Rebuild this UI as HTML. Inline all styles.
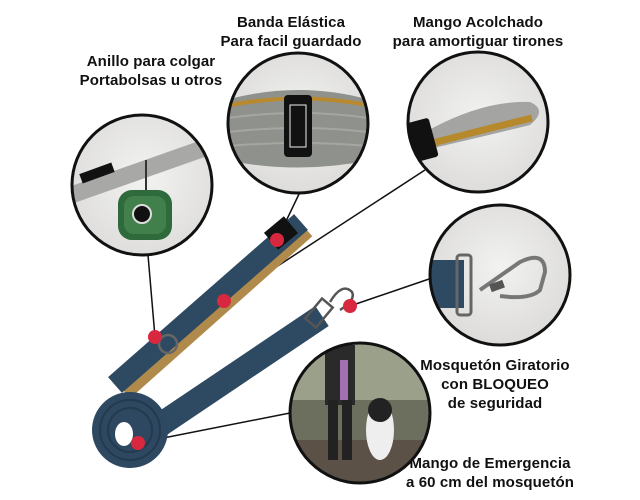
<!DOCTYPE html>
<html><head><meta charset="utf-8"><style>
html,body{margin:0;padding:0;background:#fff;width:640px;height:500px;overflow:hidden}
svg{display:block}
text{font-family:"Liberation Sans",sans-serif;font-weight:bold;font-size:15px;fill:#111;text-anchor:middle;letter-spacing:0.1px}
</style></head><body>
<svg width="640" height="500" viewBox="0 0 640 500" xmlns="http://www.w3.org/2000/svg">
<defs>
<radialGradient id="bg" cx="50%" cy="45%" r="60%"><stop offset="0" stop-color="#f2f2f1"/><stop offset="1" stop-color="#d9d8d6"/></radialGradient>
<clipPath id="c1"><circle cx="142" cy="185" r="70"/></clipPath>
<clipPath id="c2"><circle cx="298" cy="123" r="70"/></clipPath>
<clipPath id="c3"><circle cx="478" cy="122" r="70"/></clipPath>
<clipPath id="c4"><circle cx="500" cy="275" r="70"/></clipPath>
<clipPath id="c5"><circle cx="360" cy="413" r="70"/></clipPath>
</defs>
<text x="291" y="27">Banda Elástica</text>
<text x="291" y="46">Para facil guardado</text>
<text x="478" y="27">Mango Acolchado</text>
<text x="478" y="46">para amortiguar tirones</text>
<text x="151" y="66">Anillo para colgar</text>
<text x="151" y="85">Portabolsas u otros</text>
<text x="495" y="370">Mosquetón Giratorio</text>
<text x="495" y="389">con BLOQUEO</text>
<text x="495" y="408">de seguridad</text>
<text x="490" y="468">Mango de Emergencia</text>
<text x="490" y="487">a 60 cm del mosquetón</text>

<g stroke="#111" stroke-width="1.5" fill="none">
<line x1="148" y1="255" x2="155" y2="337"/>
<line x1="300" y1="192" x2="277" y2="240"/>
<line x1="425" y1="170" x2="224" y2="301"/>
<line x1="432" y1="278" x2="350" y2="306"/>
<line x1="290" y1="413" x2="138" y2="443"/>
</g>

<g>
<line x1="305" y1="228" x2="123" y2="390" stroke="#b08a4a" stroke-width="22"/>
<line x1="301" y1="222" x2="115" y2="385" stroke="#2e4a62" stroke-width="21"/>
<line x1="322" y1="316" x2="160" y2="425" stroke="#2e4a62" stroke-width="24"/>
<circle cx="130" cy="430" r="38" fill="#2d4860"/>
<circle cx="130" cy="430" r="30" fill="none" stroke="#233a4f" stroke-width="2"/>
<circle cx="130" cy="430" r="22" fill="none" stroke="#233a4f" stroke-width="2"/>
<ellipse cx="124" cy="434" rx="9" ry="12" fill="#fff"/>
<rect x="268" y="222" width="26" height="22" fill="#111" transform="rotate(-40 281 233)"/>
<circle cx="168" cy="344" r="9" fill="none" stroke="#666" stroke-width="2.5"/>
<rect x="312" y="300" width="14" height="26" fill="none" stroke="#555" stroke-width="2.5" transform="rotate(40 319 313)"/>
<path d="M330 302 Q342 282 352 292 Q356 300 340 310" fill="none" stroke="#555" stroke-width="2.5"/>
</g>

<g clip-path="url(#c1)">
<rect x="60" y="100" width="170" height="170" fill="url(#bg)"/>
<path d="M60 190 L230 130 L230 148 L60 208 Z" fill="#a8a9a7"/>
<rect x="80" y="168" width="34" height="10" fill="#111" transform="rotate(-20 97 173)"/>
<line x1="146" y1="160" x2="146" y2="190" stroke="#333" stroke-width="2"/>
<rect x="118" y="190" width="54" height="50" rx="14" fill="#2f6a3c"/>
<rect x="124" y="196" width="42" height="38" rx="10" fill="#4f8f55" opacity="0.6"/>
<circle cx="142" cy="214" r="9" fill="#111" stroke="#ddd" stroke-width="2"/>
</g>
<circle cx="142" cy="185" r="70" fill="none" stroke="#111" stroke-width="3"/>

<g clip-path="url(#c2)">
<rect x="220" y="50" width="160" height="150" fill="url(#bg)"/>
<path d="M225 100 Q300 80 370 100 L370 160 Q300 175 225 160 Z" fill="#8f918d"/>
<path d="M230 105 Q300 92 368 105" stroke="#b8892f" stroke-width="4" fill="none"/>
<g stroke="#a5a6a2" stroke-width="2" fill="none">
<path d="M228 118 Q300 108 368 118"/><path d="M228 132 Q300 124 368 132"/><path d="M228 146 Q300 140 368 146"/>
</g>
<rect x="284" y="95" width="28" height="62" rx="4" fill="#111"/>
<rect x="290" y="105" width="16" height="42" fill="none" stroke="#eee" stroke-width="1"/>
</g>
<circle cx="298" cy="123" r="70" fill="none" stroke="#111" stroke-width="3"/>

<g clip-path="url(#c3)">
<rect x="400" y="50" width="160" height="150" fill="url(#bg)"/>
<path d="M420 135 Q480 100 530 102 Q548 110 530 125 Q490 135 425 150 Z" fill="#a4a5a3"/>
<path d="M425 145 Q490 128 532 118" stroke="#b68a2c" stroke-width="7" fill="none"/>
<rect x="410" y="120" width="24" height="40" rx="3" fill="#111" transform="rotate(-15 422 140)"/>
</g>
<circle cx="478" cy="122" r="70" fill="none" stroke="#111" stroke-width="3"/>

<g clip-path="url(#c4)">
<rect x="425" y="200" width="150" height="150" fill="url(#bg)"/>
<rect x="430" y="260" width="34" height="48" fill="#2e4a62"/>
<rect x="457" y="255" width="14" height="60" rx="3" fill="none" stroke="#666" stroke-width="3"/>
<path d="M480 290 L520 262 Q545 250 545 272 L540 290 Q530 300 500 296" fill="none" stroke="#777" stroke-width="4"/>
<rect x="490" y="282" width="14" height="8" fill="#555" transform="rotate(-20 497 286)"/>
</g>
<circle cx="500" cy="275" r="70" fill="none" stroke="#111" stroke-width="3"/>

<g clip-path="url(#c5)">
<rect x="285" y="340" width="150" height="150" fill="#6c6f5e"/>
<rect x="285" y="340" width="150" height="60" fill="#9aa08a"/>
<rect x="285" y="440" width="150" height="50" fill="#5b5147"/>
<rect x="325" y="345" width="30" height="60" fill="#2a2a2a"/>
<rect x="328" y="400" width="10" height="60" fill="#222"/>
<rect x="342" y="400" width="10" height="60" fill="#222"/>
<rect x="340" y="360" width="8" height="40" fill="#a070b0"/>
<ellipse cx="380" cy="430" rx="14" ry="30" fill="#eee"/>
<ellipse cx="380" cy="410" rx="12" ry="12" fill="#222"/>
</g>
<circle cx="360" cy="413" r="70" fill="none" stroke="#111" stroke-width="3"/>

<g fill="#d8283f">
<circle cx="277" cy="240" r="7"/>
<circle cx="224" cy="301" r="7"/>
<circle cx="155" cy="337" r="7"/>
<circle cx="350" cy="306" r="7"/>
<circle cx="138" cy="443" r="7"/>
</g>
</svg>
</body></html>
